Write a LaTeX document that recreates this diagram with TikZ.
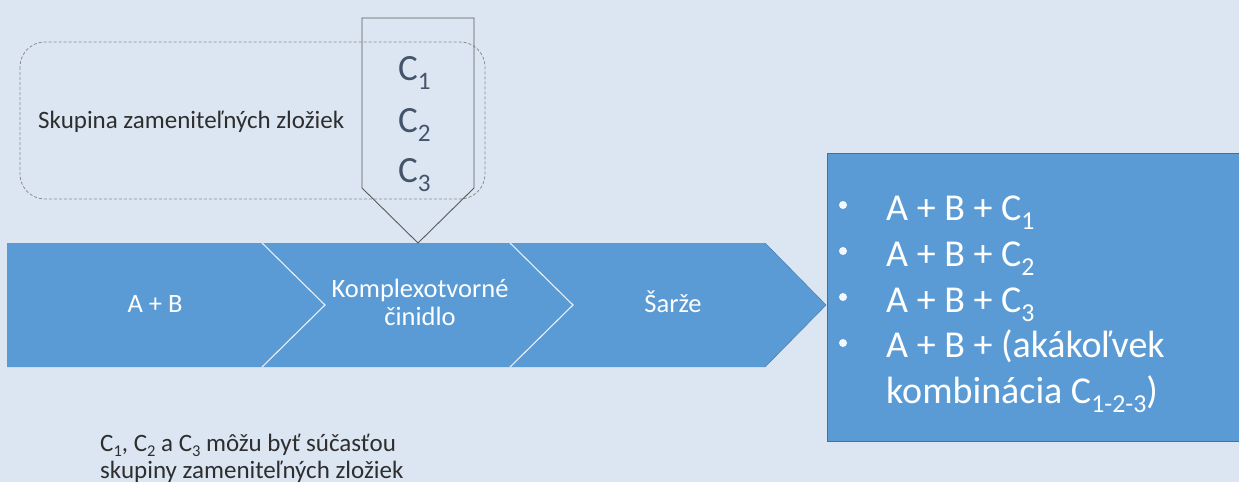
\documentclass[tikz,border=0pt]{standalone}
\usepackage{fontspec}
\setmainfont{Carlito}
\definecolor{bg}{HTML}{DCE6F2}
\definecolor{fillblue}{HTML}{5B9BD5}
\definecolor{edgeblue}{HTML}{41719C}
\definecolor{darktext}{HTML}{2E2E2E}
\definecolor{ctext}{HTML}{44546A}
\definecolor{outline}{HTML}{5A5A5A}
\definecolor{dashgrey}{HTML}{8C8C8C}
\newcommand{\sbs}[1]{\raisebox{-0.26em}{\scalebox{0.68}{#1}}}
\newcommand{\sbsn}[1]{\smash{\raisebox{-0.2em}{\scalebox{0.66}{#1}}}}
\tikzset{
  bandtext/.style={text=white, font=\fontsize{26.5}{31}\selectfont, inner sep=0pt, anchor=base},
  listtext/.style={text=white, font=\fontsize{38}{45}\selectfont, inner sep=0pt, anchor=base west},
  ctextstyle/.style={text=ctext, font=\fontsize{37}{44}\selectfont, inner sep=0pt, anchor=base west},
  plaintext/.style={text=darktext, font=\fontsize{25}{30}\selectfont, inner sep=0pt, anchor=base west},
  bulletdot/.style={fill=white!92!fillblue}
}
\begin{document}
\begin{tikzpicture}[x=1pt,y=-1pt]
\useasboundingbox (0,0) rectangle (1239,482);
\fill[bg] (0,0) rectangle (1239,482);

% dashed group box
\draw[dashgrey, line width=0.8pt, dash pattern=on 3pt off 2pt, rounded corners=25pt] (20,42) rectangle (485,199);
\node[plaintext] (grp) at (38,128) {Skupina zameniteľných zložiek};

% chevron band
\fill[fillblue] (7,243) -- (262,243) -- (325,305) -- (262,367) -- (7,367) -- cycle;
\fill[fillblue] (262,243) -- (510,243) -- (573,305) -- (510,367) -- (262,367) -- (325,305) -- cycle;
\fill[fillblue] (510,243) -- (765,243) -- (826,305) -- (765,367) -- (510,367) -- (573,305) -- cycle;
\draw[white!85!fillblue, line width=1.1pt] (262,243) -- (325,305) -- (262,367);
\draw[white!85!fillblue, line width=1.1pt] (510,243) -- (573,305) -- (510,367);
\draw[edgeblue!60!fillblue, line width=0.6pt] (765,243) -- (826,305) -- (765,367);

\node[bandtext] (ab) at (155,312) {A + B};
\node[bandtext] (komp1) at (420,297) {Komplexotvorné};
\node[bandtext] (komp2) at (420,325) {činidlo};
\node[bandtext] (sarze) at (673,312) {Šarže};

% pentagon (down arrow) with C1..C3
\draw[outline, line width=0.9pt] (362,18) -- (474,18) -- (474,188) -- (418,243) -- (362,188) -- cycle;
\node[ctextstyle] (c1) at (398,80) {C\sbs{1}};
\node[ctextstyle] (c2) at (398,132) {C\sbs{2}};
\node[ctextstyle] (c3) at (398,182) {C\sbs{3}};

% result box
\fill[fillblue] (827,153) rectangle (1245,441);
\draw[edgeblue, line width=0.8pt] (1245,153) -- (827,153) -- (827,441) -- (1245,441);
\fill[bulletdot] (843,205) circle (4);
\fill[bulletdot] (843,251) circle (4);
\fill[bulletdot] (843,297) circle (4);
\fill[bulletdot] (843,343) circle (4);
\node[listtext] (r1) at (886,220) {A + B + C\sbs{1}};
\node[listtext] (r2) at (886,266) {A + B + C\sbs{2}};
\node[listtext] (r3) at (886,312) {A + B + C\sbs{3}};
\node[listtext] (r4) at (886,357) {A + B + (akákoľvek};
\node[listtext] (r5) at (886,403) {kombinácia C\sbs{1-2-3})};

% note
\node[plaintext] (n1) at (100,451) {C\sbsn{1}, C\sbsn{2} a C\sbsn{3} môžu byť súčasťou};
\node[plaintext] (n2) at (100,478) {skupiny zameniteľných zložiek};
\end{tikzpicture}
\end{document}
